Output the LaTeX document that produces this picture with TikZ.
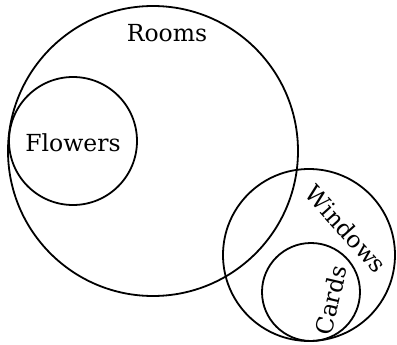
\documentclass[tikz,border=0pt]{standalone}
\usepackage{fontspec}
\setmainfont{DejaVu Serif}
\begin{document}
\begin{tikzpicture}[x=1pt,y=-1pt,
  ring/.style={draw=black,line width=1.8pt},
  lab/.style={font=\fontsize{23.5}{26}\selectfont,inner sep=0pt}]
\useasboundingbox (0,0) rectangle (397,345);
\draw[ring] (153,151) circle (145);
\draw[ring] (73,141) circle (64);
\draw[ring] (309,255) circle (86);
\draw[ring] (311,292) circle (49);
\node[lab] (rooms) at (167,33) {Rooms};
\node[lab] (flowers) at (73,143) {Flowers};
\node[lab,rotate=-48] (windows) at (346,229) {Windows};
\node[lab,rotate=77] (cards) at (331,300) {Cards};
\end{tikzpicture}
\end{document}
